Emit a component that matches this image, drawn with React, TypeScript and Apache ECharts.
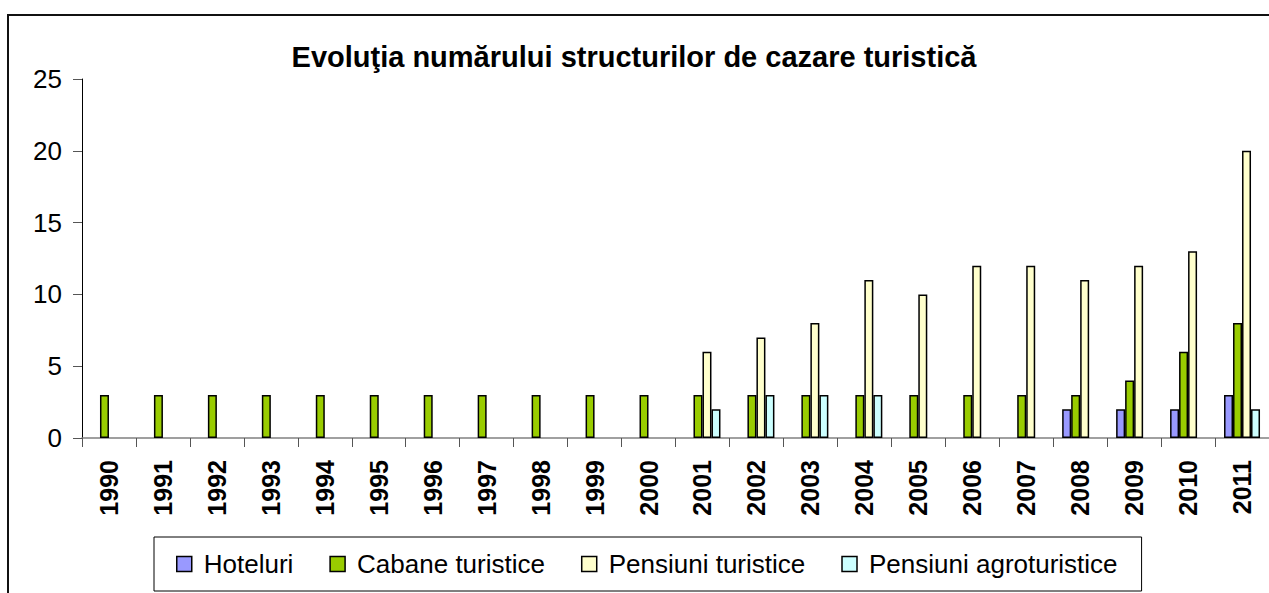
import React, { useEffect, useRef } from "react";
import * as echarts from "echarts";

const years = ["1990","1991","1992","1993","1994","1995","1996","1997","1998","1999","2000","2001","2002","2003","2004","2005","2006","2007","2008","2009","2010","2011"];
const hoteluri = [0,0,0,0,0,0,0,0,0,0,0,0,0,0,0,0,0,0,2,2,2,3];
const cabane = [3,3,3,3,3,3,3,3,3,3,3,3,3,3,3,3,3,3,3,4,6,8];
const pensiuni = [0,0,0,0,0,0,0,0,0,0,0,6,7,8,11,10,12,12,11,12,13,20];
const agro = [0,0,0,0,0,0,0,0,0,0,0,2,3,3,3,0,0,0,0,0,0,2];
const yTicks = [0, 5, 10, 15, 20, 25];

const seriesNames = ["Hoteluri", "Cabane turistice", "Pensiuni turistice", "Pensiuni agroturistice"];
const seriesColors = ["#9999FF", "#99CC00", "#FFFFCC", "#CCFFFF"];
const seriesData = [hoteluri, cabane, pensiuni, agro];

const FONT = "Arial, 'Liberation Sans', sans-serif";

export default function App() {
  const ref = useRef<HTMLDivElement>(null);
  useEffect(() => {
    if (!ref.current) return;
    const chart = echarts.init(ref.current, null, { renderer: "svg" });
    chart.setOption({
      animation: false,
      backgroundColor: "#fff",
      textStyle: { fontFamily: FONT },
      title: {
        text: "Evoluţia numărului structurilor de cazare turistică",
        left: 629,
        textAlign: "center",
        top: 37,
        textStyle: { fontSize: 29, fontWeight: "bold", color: "#000", fontFamily: FONT },
      },
      graphic: [
        {
          type: "rect",
          shape: { x: 8, y: 15, width: 1300, height: 620 },
          style: { fill: "none", stroke: "#111", lineWidth: 2 },
          silent: true,
        },
      ],
      legend: {
        data: seriesNames,
        left: 154,
        top: 537,
        orient: "horizontal",
        itemWidth: 15,
        itemHeight: 15,
        itemGap: 36,
        icon: "rect",
        padding: [12, 24, 12, 22],
        borderColor: "#000",
        borderWidth: 1,
        itemStyle: { borderColor: "#000", borderWidth: 1.5 },
        textStyle: { fontSize: 26, color: "#000", fontFamily: FONT, padding: [0, 0, 0, 7], lineHeight: 30 },
      },
      grid: { left: 82, right: -6, top: 79, bottom: 155, containLabel: false },
      xAxis: {
        type: "category",
        data: years,
        axisLine: { show: true, lineStyle: { color: "#808080", width: 1.5 } },
        axisTick: { show: true, length: 9, lineStyle: { color: "#555" } },
        axisLabel: {
          interval: 0,
          rotate: 90,
          fontSize: 25,
          fontWeight: "bold",
          color: "#000",
          margin: 22,
          fontFamily: FONT,
        },
        splitLine: { show: false },
      },
      yAxis: {
        type: "value",
        min: yTicks[0],
        max: yTicks[yTicks.length - 1],
        interval: 5,
        axisLine: { show: true, lineStyle: { color: "#000", width: 1 } },
        axisTick: { show: true, length: 9, lineStyle: { color: "#555" } },
        axisLabel: { fontSize: 26, color: "#000", margin: 20, fontFamily: FONT },
        splitLine: { show: false },
      },
      series: seriesNames.map((name, i) => ({
        name,
        type: "bar",
        barWidth: 9,
        barGap: "0%",
        data: seriesData[i].map((v) => (v === 0 ? "-" : v)),
        itemStyle: { color: seriesColors[i], borderColor: "#000", borderWidth: 1.5 },
      })),
    });
    return () => chart.dispose();
  }, []);
  return <div ref={ref} style={{ position: "absolute", left: 0, top: 0, width: 1269, height: 593 }} />;
}
